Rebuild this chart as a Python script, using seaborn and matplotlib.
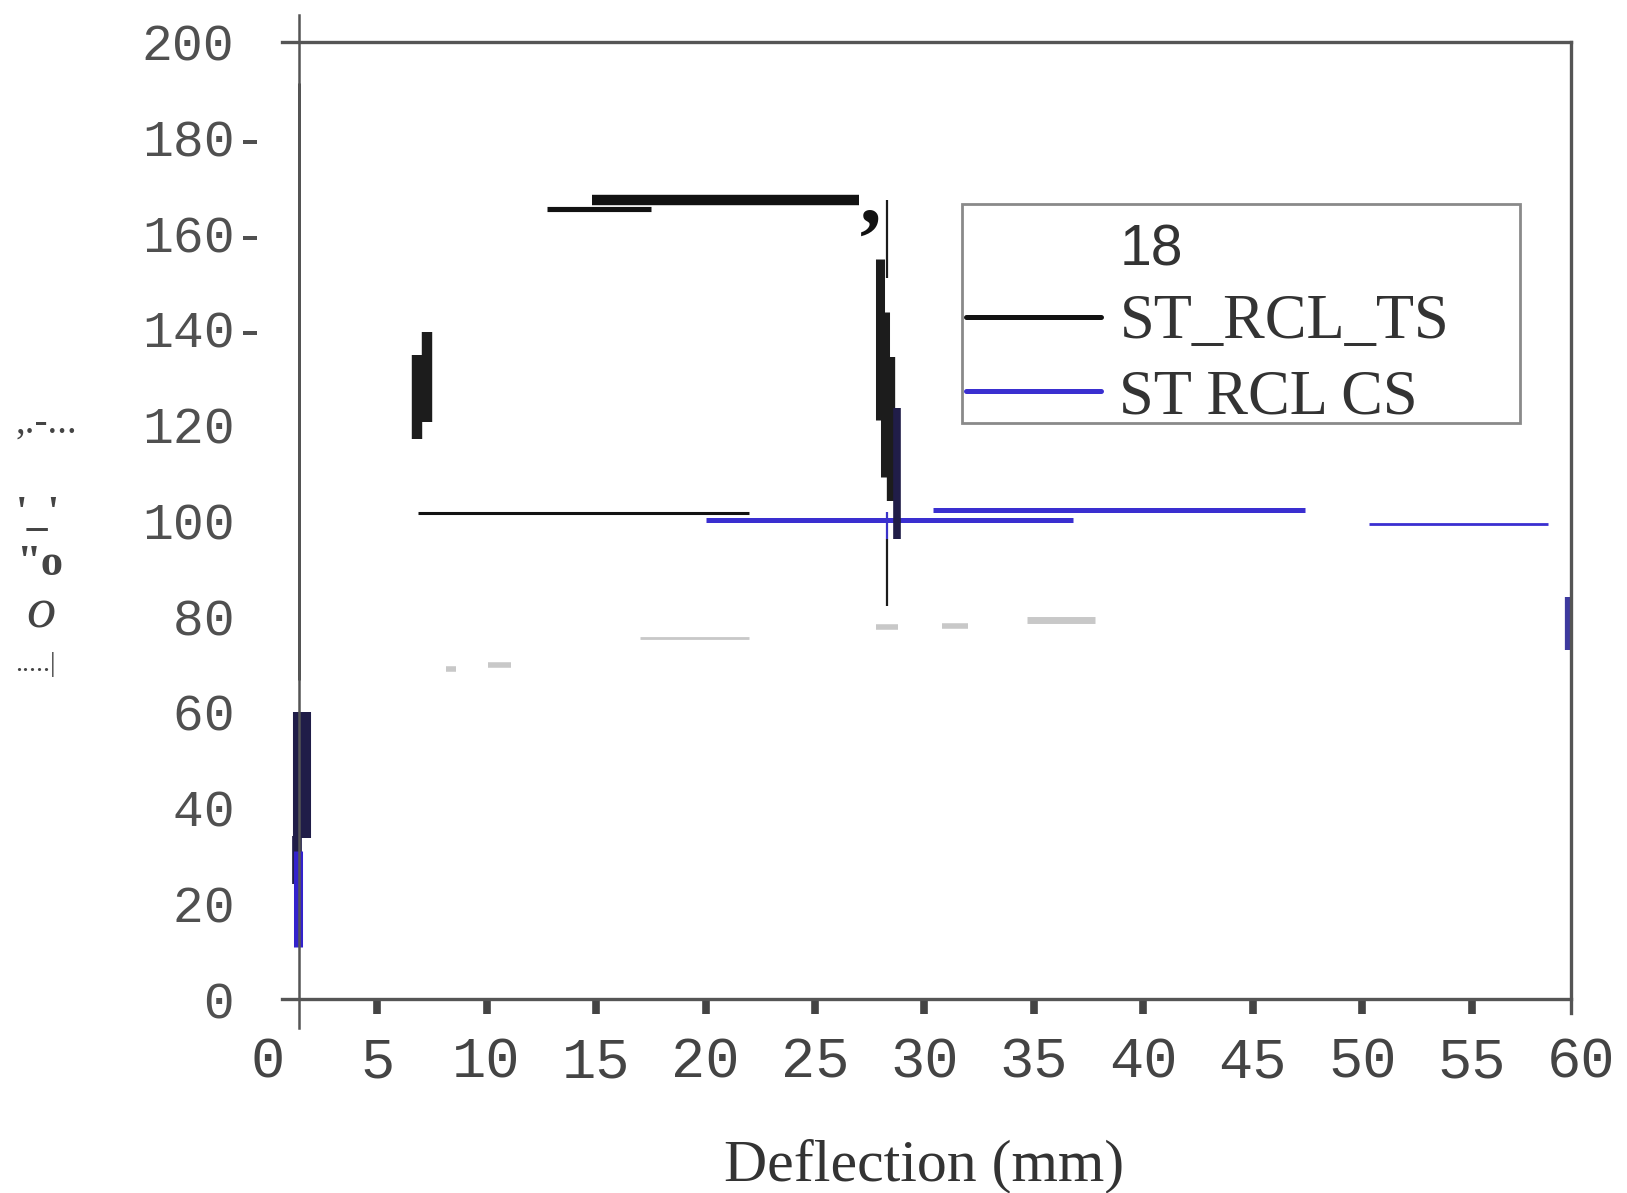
import matplotlib
matplotlib.use("Agg")
import matplotlib.pyplot as plt
from matplotlib.lines import Line2D
from matplotlib.patches import Rectangle
import seaborn as sns

# ---- data (deflection in mm, load in kN) ----
series_names = ["ST_RCL_TS", "ST RCL CS"]
legend_head = "18"

# ST_RCL_TS : horizontal strokes (y, x from, x to)
ts_h_y = [165.1, 166.8, 101.6]
ts_h_x0 = [12.75, 14.8, 6.87]
ts_h_x1 = [17.5, 27.0, 22.0]
# ST_RCL_TS : vertical strokes (x, y from, y to)
ts_v_x = [1.42, 6.8, 7.3, 28.3, 28.3, 27.95, 28.2, 28.45]
ts_v_y0 = [66.7, 117.0, 120.5, 150.6, 82.0, 121.0, 109.0, 104.0]
ts_v_y1 = [191.3, 134.5, 139.3, 166.8, 96.0, 154.5, 143.5, 134.0]

# ST RCL CS : horizontal / vertical strokes
cs_h_y = [100.1, 102.1, 99.2]
cs_h_x0 = [20.0, 30.4, 50.3]
cs_h_x1 = [36.8, 47.4, 58.5]
cs_v_x = [28.3, 1.4, 59.4]
cs_v_y0 = [96.0, 10.8, 73.0]
cs_v_y1 = [101.8, 31.0, 84.0]

# overlap strokes (dark navy)
ov_v_x = [28.75, 1.55, 1.35]
ov_v_y0 = [96.0, 33.6, 24.0]
ov_v_y1 = [123.5, 60.0, 34.0]

# faint grey remnants
gr_y = [75.4, 77.8, 78.0, 79.1, 68.9, 69.8]
gr_x0 = [17.0, 27.8, 30.8, 34.7, 8.15, 10.05]
gr_x1 = [22.0, 28.8, 32.0, 37.8, 8.6, 11.1]

x_ticks = list(range(0, 61, 5))
y_ticks = list(range(0, 201, 20))
y_tick_labels = ["  0", " 20", " 40", " 60", " 80", "100", "120",
                 "140-", "160-", "180-", "200"]

# ---- styles ----
ts_h_lw = [3.7, 7.5, 2.2]
ts_v_lw = [1.8, 7.5, 7.5, 1.6, 1.6, 6.5, 6.5, 6.0]
cs_h_lw = [3.6, 3.6, 2.0]
cs_v_lw = [1.6, 6.5, 4.5]
cs_v_col = ["#3a33c8", "#3322cc", "#3d3a9e"]
ov_v_lw = [5.5, 13.0, 7.0]
gr_lw = [2.0, 4.0, 4.0, 5.0, 4.0, 4.0]

black = "#121212"
blue = "#3a2fd0"
navy = "#201d48"
grey = "#c8c8c8"
axis_col = "#555555"

sns.set_style("white")
plt.rcParams["font.family"] = ["Liberation Mono", "DejaVu Sans Mono"]

fig = plt.figure(figsize=(16.27, 11.93), dpi=100)
ax = fig.add_axes([0.1645, 0.1626, 0.8074, 0.8026])


def seg(x, y, color, lw):
    sns.lineplot(x=x, y=y, color=color, linewidth=lw, estimator=None,
                 sort=False, ax=ax, legend=False, solid_capstyle="butt")


for y, a, b, w in zip(gr_y, gr_x0, gr_x1, gr_lw):
    seg([a, b], [y, y], grey, w)
for y, a, b, w in zip(ts_h_y, ts_h_x0, ts_h_x1, ts_h_lw):
    seg([a, b], [y, y], black, w)
for x, a, b, w in zip(ts_v_x, ts_v_y0, ts_v_y1, ts_v_lw):
    seg([x, x], [a, b], "#1c1c1c", w)
for y, a, b, w in zip(cs_h_y, cs_h_x0, cs_h_x1, cs_h_lw):
    seg([a, b], [y, y], blue, w)
for x, a, b, w in zip(ov_v_x, ov_v_y0, ov_v_y1, ov_v_lw):
    seg([x, x], [a, b], navy, w)
for x, a, b, w, c in zip(cs_v_x, cs_v_y0, cs_v_y1, cs_v_lw, cs_v_col):
    seg([x, x], [a, b], c, w)

ax.text(27.55, 166.5, ",", family="Liberation Serif", fontweight="bold",
        fontsize=62, color=black, ha="center", va="center")

ax.set_xlim(0, 60)
ax.set_ylim(0, 200)

# axes frame
for s in ["left", "right", "top", "bottom"]:
    ax.spines[s].set_color(axis_col)
    ax.spines[s].set_linewidth(2.4)
    ax.spines[s].set_visible(True)
ax.spines["left"].set_position(("data", 1.42))
ax.spines["left"].set_bounds(-6, 205.5)
ax.spines["left"].set_linewidth(1.8)
ax.spines["right"].set_position(("data", 59.55))
ax.spines["right"].set_bounds(-3, 200)
ax.spines["top"].set_bounds(0.66, 59.55)
ax.spines["bottom"].set_bounds(0.66, 59.55)

ax.xaxis.remove_overlapping_locs = False
ax.set_xticks(x_ticks)
ax.set_xticks(x_ticks[1:-1], minor=True)
ax.tick_params(axis="x", which="both", bottom=True)
ax.tick_params(axis="x", which="major", length=0, pad=26, labelsize=41,
               labelcolor="#444444")
ax.tick_params(axis="x", which="minor", length=11, width=5.5,
               color="#444444", direction="out")

ax.set_yticks(y_ticks)
ax.set_yticklabels(y_tick_labels)
ax.tick_params(axis="y", length=0, pad=113, labelsize=37,
               labelcolor="#505050")
plt.setp(ax.get_yticklabels(), ha="left")

ax.set_xlabel("Deflection (mm)", family="Liberation Serif", fontsize=43,
              color="#333333", labelpad=36)

# garbled y-axis label fragments
frag = [(",.-...", 0.0096, 0.645, 28, "normal", "normal"),
        ("'_'", 0.0096, 0.568, 30, "bold", "normal"),
        ('"o', 0.0096, 0.527, 32, "bold", "normal"),
        ("o", 0.016, 0.486, 42, "normal", "italic"),
        (".....|", 0.0096, 0.443, 20, "normal", "normal")]
for t, fx, fy, fs, fw, st in frag:
    fig.text(fx, fy, t, family="Liberation Serif", fontsize=fs,
             fontweight=fw, style=st, color="#444444", ha="left", va="center")

# legend
ax.add_patch(Rectangle((0.5284, 0.6013), 0.425, 0.2286, transform=ax.transAxes,
                       fill=False, edgecolor="#8a8a8a", linewidth=2.0,
                       zorder=5))
handles = [Line2D([], [], color="none"),
           Line2D([], [], color=black, linewidth=3.6),
           Line2D([], [], color=blue, linewidth=3.6)]
leg = ax.legend(handles, [legend_head] + series_names, loc="upper left",
                bbox_to_anchor=(0.5295, 0.815), frameon=False,
                prop={"family": "Liberation Serif", "size": 45},
                handlelength=2.15, handletextpad=0.3, labelspacing=0.27,
                borderpad=0.05, borderaxespad=0)
leg.get_texts()[0].set_fontfamily("Liberation Sans")
leg.get_texts()[0].set_fontsize(41)
for t in leg.get_texts():
    t.set_color("#333333")

fig.savefig("out.png", dpi=100)
